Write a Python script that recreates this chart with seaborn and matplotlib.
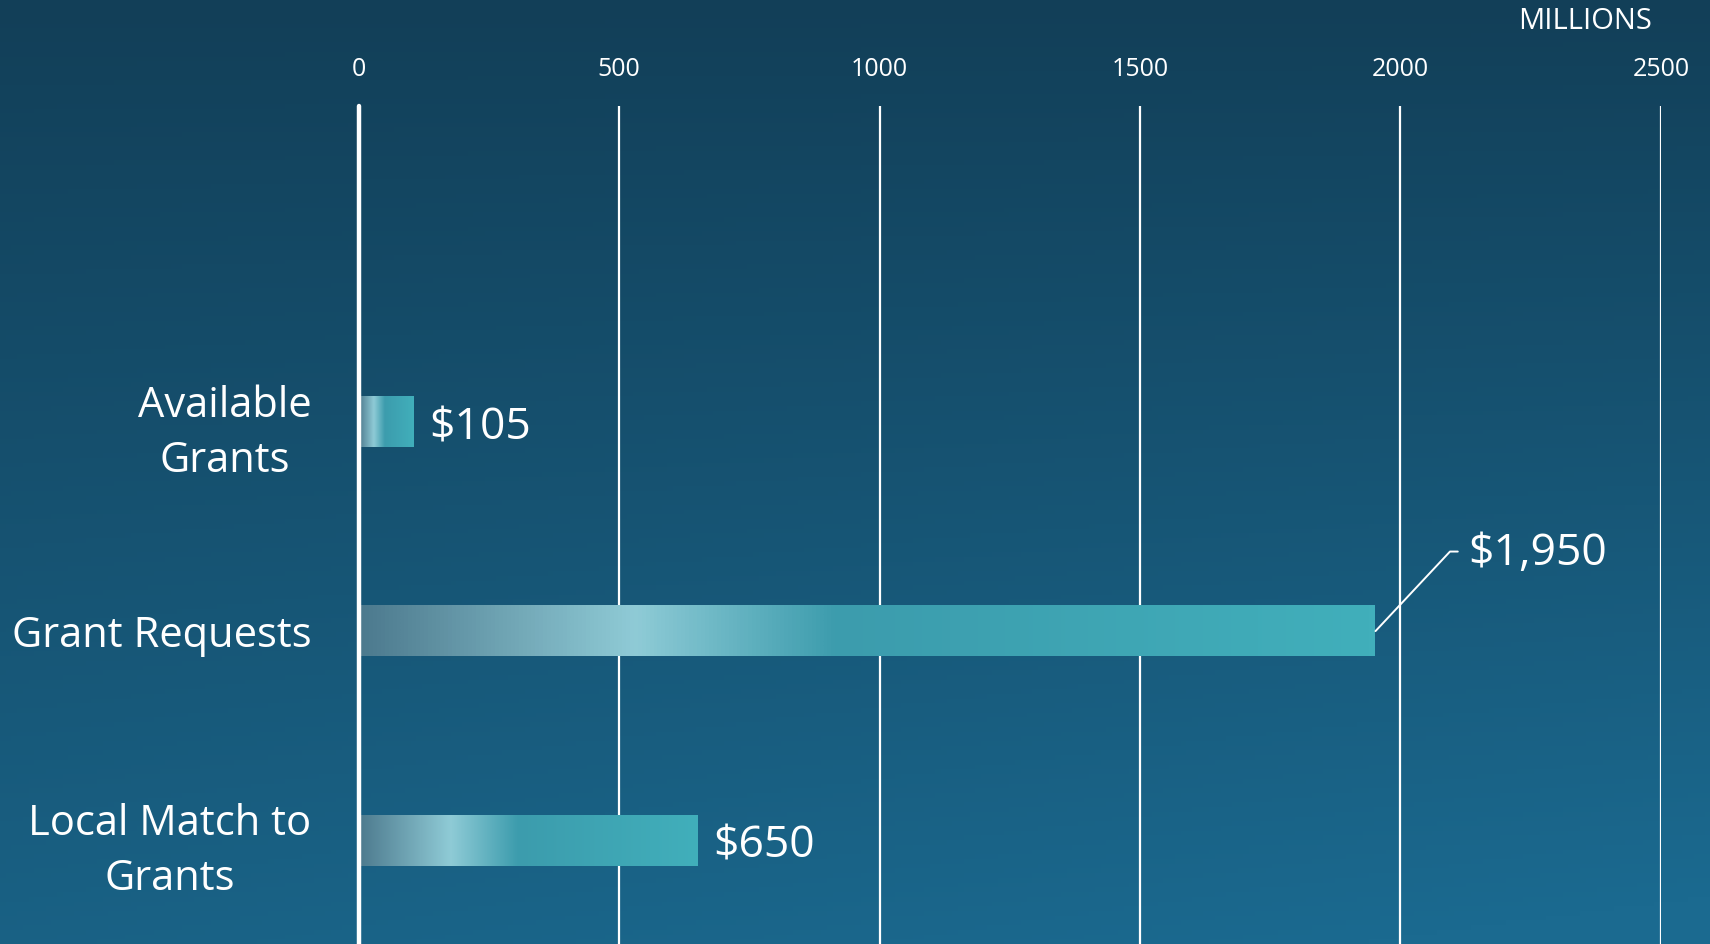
import numpy as np
import pandas as pd
import matplotlib
matplotlib.use("Agg")
import matplotlib.pyplot as plt
from matplotlib.colors import LinearSegmentedColormap, to_rgb
import seaborn as sns

categories = ["Available\nGrants", "Grant Requests", "Local Match to\nGrants"]
values = [105, 1950, 650]
value_labels = ["$105", "$1,950", "$650"]
x_ticks = [0, 500, 1000, 1500, 2000, 2500]
unit_label = "MILLIONS"

sns.set_theme(style="white")
plt.rcParams["font.family"] = ["Open Sans", "DejaVu Sans"]

W, H = 1710, 944
fig = plt.figure(figsize=(W / 100, H / 100), dpi=100)

# background gradient
bg = fig.add_axes([0, 0, 1, 1], zorder=-10)
ny, nx = 200, 300
yy, xx = np.mgrid[0:1:ny * 1j, 0:1:nx * 1j]
top = np.array(to_rgb("#123f58"))
bot = np.array(to_rgb("#1b6a90"))
t = np.clip(0.8 * yy + 0.25 * xx * yy, 0, 1)[..., None]
img = top * (1 - t) + bot * t
bg.imshow(img, extent=[0, 1, 0, 1], aspect="auto", origin="upper")
bg.set_axis_off()

ax = fig.add_axes([329 / 1568, 0, (1523 - 329) / 1568, 1 - 97 / 866])
ax.patch.set_alpha(0)

df = pd.DataFrame({"category": categories, "value": values})
sns.barplot(data=df, x="value", y="category", orient="h", ax=ax,
            width=0.24, color="#3fabb8", saturation=1, zorder=3)

# gradient bars
cmap = LinearSegmentedColormap.from_list(
    "bar", [(0.0, "#4d7a8e"), (0.27, "#8fcbd6"), (0.47, "#3c9cad"), (1.0, "#41afbb")])
grad = np.linspace(0, 1, 256)[None, :]
for p in ax.patches:
    x0, y0 = p.get_x(), p.get_y()
    w, h = p.get_width(), p.get_height()
    p.set_facecolor("none")
    p.set_edgecolor("none")
    ax.imshow(grad, cmap=cmap, extent=[x0, x0 + w, y0 + h, y0], aspect="auto",
              zorder=3, interpolation="bicubic")
ax.set_xlim(0, 2500)
ax.set_ylim(2.495, -1.51)

# grid
for xt in x_ticks:
    if xt == 0:
        ax.axvline(xt, color="white", lw=3.2, zorder=4, clip_on=False)
    else:
        ax.axvline(xt, color="white", lw=1.6, zorder=2)

ax.xaxis.tick_top()
ax.set_xticks(x_ticks)
ax.set_xticklabels([str(v) for v in x_ticks], color="white", fontsize=18)
ax.tick_params(axis="x", length=0, pad=17)
ax.tick_params(axis="y", length=0, pad=34)
for lab in ax.get_yticklabels():
    lab.set_color("white")
    lab.set_fontsize(30)
    lab.set_multialignment("center")
    lab.set_linespacing(1.4)
ax.set_xlabel("")
ax.set_ylabel("")
for s in ax.spines.values():
    s.set_visible(False)

# value labels
for i, (v, lab) in enumerate(zip(values, value_labels)):
    if i == 1:
        ax.plot([v + 2, v + 145, v + 160], [i, i - 0.38, i - 0.38], color="white", lw=1.4, zorder=5)
        ax.text(v + 180, i - 0.37, lab, color="white", fontsize=32, va="center", ha="left")
    else:
        ax.text(v + 30, i + 0.03, lab, color="white", fontsize=32, va="center", ha="left")

fig.text(1515 / 1568, 1 - 20 / 866, unit_label, color="white", fontsize=21,
         ha="right", va="center")

fig.savefig("out.png", dpi=100)
